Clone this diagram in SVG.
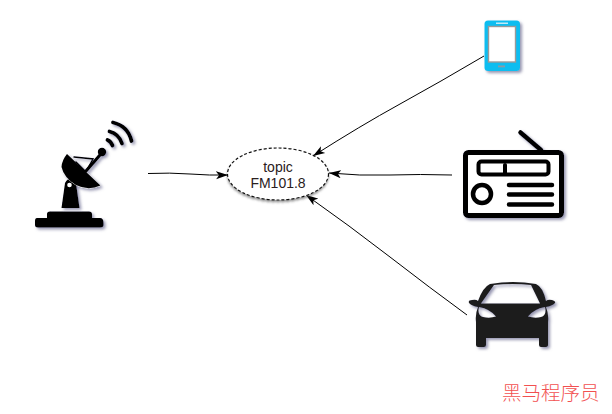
<svg xmlns="http://www.w3.org/2000/svg" width="612" height="414" viewBox="0 0 612 414">
<style>
.t{font-family:"Liberation Sans",Arial,sans-serif;font-size:14px;fill:#2a2020;text-anchor:middle}
.c{fill:none;stroke:#000;stroke-width:1}
.k{fill:#000}
.r{fill:none;stroke:#000;stroke-linecap:round}
</style>
<defs>
<filter id="s" x="-20%" y="-20%" width="150%" height="150%"><feDropShadow dx="2" dy="2" stdDeviation="1.5" flood-color="#6a6a90" flood-opacity=".7"/></filter>
<filter id="e" x="-20%" y="-20%" width="140%" height="150%"><feDropShadow dx="0" dy="2" stdDeviation="1.2" flood-color="#555" flood-opacity=".6"/></filter>
<marker id="a" markerWidth="14" markerHeight="10" refX="12" refY="5" orient="auto" markerUnits="userSpaceOnUse"><path d="M0 1L12 5L0 9L3 5Z" fill="#000"/></marker>
</defs>
<rect width="612" height="414" fill="#fff"/>
<g id="connectors">
<path class="c" marker-end="url(#a)" d="M148 173.500Q170 172.500 190 174T228 175"/>
<path class="c" marker-end="url(#a)" d="M484 56Q440 82 400 104T313 156"/>
<path class="c" marker-end="url(#a)" d="M452 175Q420 174 390 175T329 173"/>
<path class="c" marker-end="url(#a)" d="M467 315Q430 288 390 257T306 195"/>
</g>
<g id="antenna" filter="url(#s)">
<path class="k" d="M37 218H47V214Q47 211.500 50 211.500H89Q92 211.500 92 214V218H100Q103.500 218 103.500 223V225Q103.500 227.500 100 227.500H38Q35 227.500 35 225V221Q35 218 37 218Z"/>
<path class="k" d="M61.500 208L65 183Q70 174 76 183L79.500 208Z"/>
<path class="k" stroke="#fff" stroke-width=".9" paint-order="stroke" d="M67 154L100.500 185.500Q88 191 76 185Q64 178 61.500 167Q62 160 67 154Z"/>
<circle cx="69.500" cy="185" r="2.300" fill="#fff"/>
<path class="r" stroke-width="1.500" d="M74 157L93 159L88 168"/>
<path class="r" stroke-width="1.500" d="M76 162L85 171"/>
<path class="r" stroke-width="3.200" d="M86 171L100 155"/>
<circle class="k" cx="102" cy="152" r="4.200"/>
<path class="r" stroke-width="3.800" d="M107.500 140Q111 141.500 112.500 145.500"/>
<path class="r" stroke-width="3.800" d="M109.500 131.500Q119 134 122 143.500"/>
<path class="r" stroke-width="3.800" d="M113 122.500Q128 126 131.500 141"/>
</g>
<g id="phone" filter="url(#s)">
<rect x="484.500" y="20.500" width="35.500" height="50.500" rx="3.500" fill="#10bdf0"/>
<rect x="488.500" y="26.500" width="27" height="35.500" fill="#fff" stroke="#9a9a9a" stroke-width="1.400"/>
<rect x="496" y="22.500" width="12" height="1.500" fill="#bfeaf8"/>
<rect x="498" y="65.500" width="7" height="1.800" fill="#8a9aa5"/>
</g>
<g id="radio" filter="url(#s)">
<rect x="465.500" y="152.500" width="96" height="63" rx="3" fill="#fff" stroke="#000" stroke-width="5"/>
<path class="r" stroke-width="4.500" d="M520.500 132.500L541 150"/>
<rect x="478.500" y="161.500" width="70" height="13" rx="3" fill="#fff" stroke="#000" stroke-width="4"/>
<path class="r" stroke-width="4" d="M505 165V173"/>
<circle cx="482" cy="194" r="9" fill="#fff" stroke="#000" stroke-width="4.500"/>
<path class="r" stroke-width="4.500" d="M509 185H552M509 194.500H552M509 204.500H552"/>
</g>
<g id="topic">
<ellipse cx="278" cy="174" rx="50.500" ry="26" fill="#fff" stroke="#111" stroke-width="1.200" stroke-dasharray="3 2" filter="url(#e)"/>
<text class="t" x="278" y="171.700">topic</text>
<text class="t" x="278" y="188.300">FM101.8</text>
</g>
<g id="car" filter="url(#s)">
<path fill="#1c1c1c" fill-rule="evenodd" d="M490 284Q513 280 536 284Q543 287 546 301Q548 299 552 300Q556 301 555 303Q552 306 546 307Q549 314 548 322V345Q548 347 545 347H541Q539 347 539 345V338H486V345Q486 347 484 347H478Q476 347 476 345V322Q475 314 478 307Q472 306 469 303Q468 300 472 300Q476 299 478 301Q483 287 490 284ZM494 285L481 303.500H540L531 285Q512 283 494 285ZM479 307Q477 315 483 317Q490 318.500 496 316.500Q490 309 479 307ZM545 307Q534 309 528 316.500Q535 318.500 541 317Q547 315 545 307Z"/>
</g>
<text id="watermark" x="502" y="400" font-family="'Noto Sans CJK SC',sans-serif" font-size="19.500" font-weight="300" fill="#f25050">黑马程序员</text>
</svg>
